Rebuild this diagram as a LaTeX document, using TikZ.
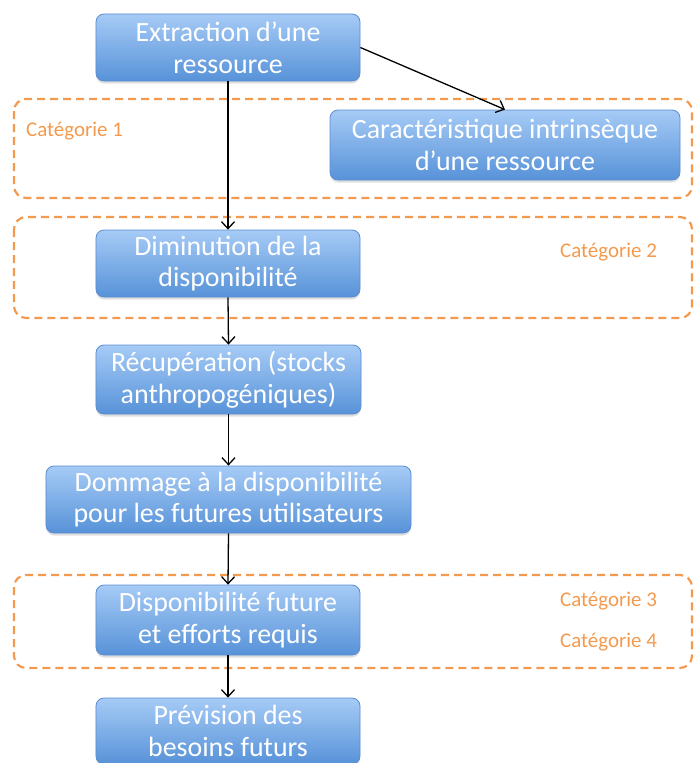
\documentclass[tikz,border=0pt]{standalone}
\usepackage{fontspec}
\setmainfont{Carlito}
\usetikzlibrary{arrows.meta,shadows}
\definecolor{boxtop}{HTML}{A6CBF6}
\definecolor{boxbot}{HTML}{5792D8}
\definecolor{boxline}{HTML}{5B8DD0}
\definecolor{catorange}{HTML}{F39A4E}
\tikzset{
  flowbox/.style={draw=boxline, line width=0.8bp, rounded corners=8bp,
    top color=boxtop, bottom color=boxbot, text=white, align=center,
    font=\fontsize{28}{32}\selectfont, inner sep=0pt,
    drop shadow={opacity=0.25, shadow xshift=0bp, shadow yshift=-2.5bp}},
  catregion/.style={draw=catorange, dashed, dash pattern=on 8bp off 5bp,
    line width=2.2bp, rounded corners=12bp},
  catlabel/.style={text=catorange, font=\fontsize{21}{24}\selectfont, inner sep=0pt},
  flowarrow/.style={draw=black, line width=1.3bp, -{Straight Barb[length=7bp,width=13bp]}}
}
\begin{document}
\begin{tikzpicture}[x=1bp,y=-1bp]
\useasboundingbox (0,0) rectangle (694,763);
% category regions
\draw[catregion] (14,99) rectangle (692,198);
\draw[catregion] (14,217) rectangle (692,318);
\draw[catregion] (14,575) rectangle (692,668);
% boxes
\node[flowbox, minimum width=264bp, minimum height=67bp] (ext) at (228,47.5) {Extraction d’une\\ressource};
\node[flowbox, minimum width=350bp, minimum height=70bp] (car) at (505,145) {Caractéristique intrinsèque\\d’une ressource};
\node[flowbox, minimum width=264bp, minimum height=67bp] (dim) at (228,263.5) {Diminution de la\\disponibilité};
\node[flowbox, minimum width=265bp, minimum height=69bp] (rec) at (228.5,379.5) {Récupération (stocks\\anthropogéniques)};
\node[flowbox, minimum width=365bp, minimum height=67bp] (dom) at (228.5,499.5) {Dommage à la disponibilité\\pour les futures utilisateurs};
\node[flowbox, minimum width=264bp, minimum height=70bp] (fut) at (228,620) {Disponibilité future\\et efforts requis};
\node[flowbox, minimum width=264bp, minimum height=66bp] (prev) at (228,731) {Prévision des\\besoins futurs};
% labels
\node[catlabel, anchor=west] (c1) at (26,131) {Catégorie 1};
\node[catlabel, anchor=west] (c2) at (560,252) {Catégorie 2};
\node[catlabel, anchor=west] (c3) at (560,601) {Catégorie 3};
\node[catlabel, anchor=west] (c4) at (560,642) {Catégorie 4};
% arrows
\draw[flowarrow] (ext.south) -- (dim.north);
\draw[flowarrow] (ext.east) -- (car.north);
\draw[flowarrow] (dim.south) -- (rec.north);
\draw[flowarrow] (rec.south) -- (dom.north);
\draw[flowarrow] (dom.south) -- (fut.north);
\draw[flowarrow] (fut.south) -- (prev.north);
\end{tikzpicture}
\end{document}
